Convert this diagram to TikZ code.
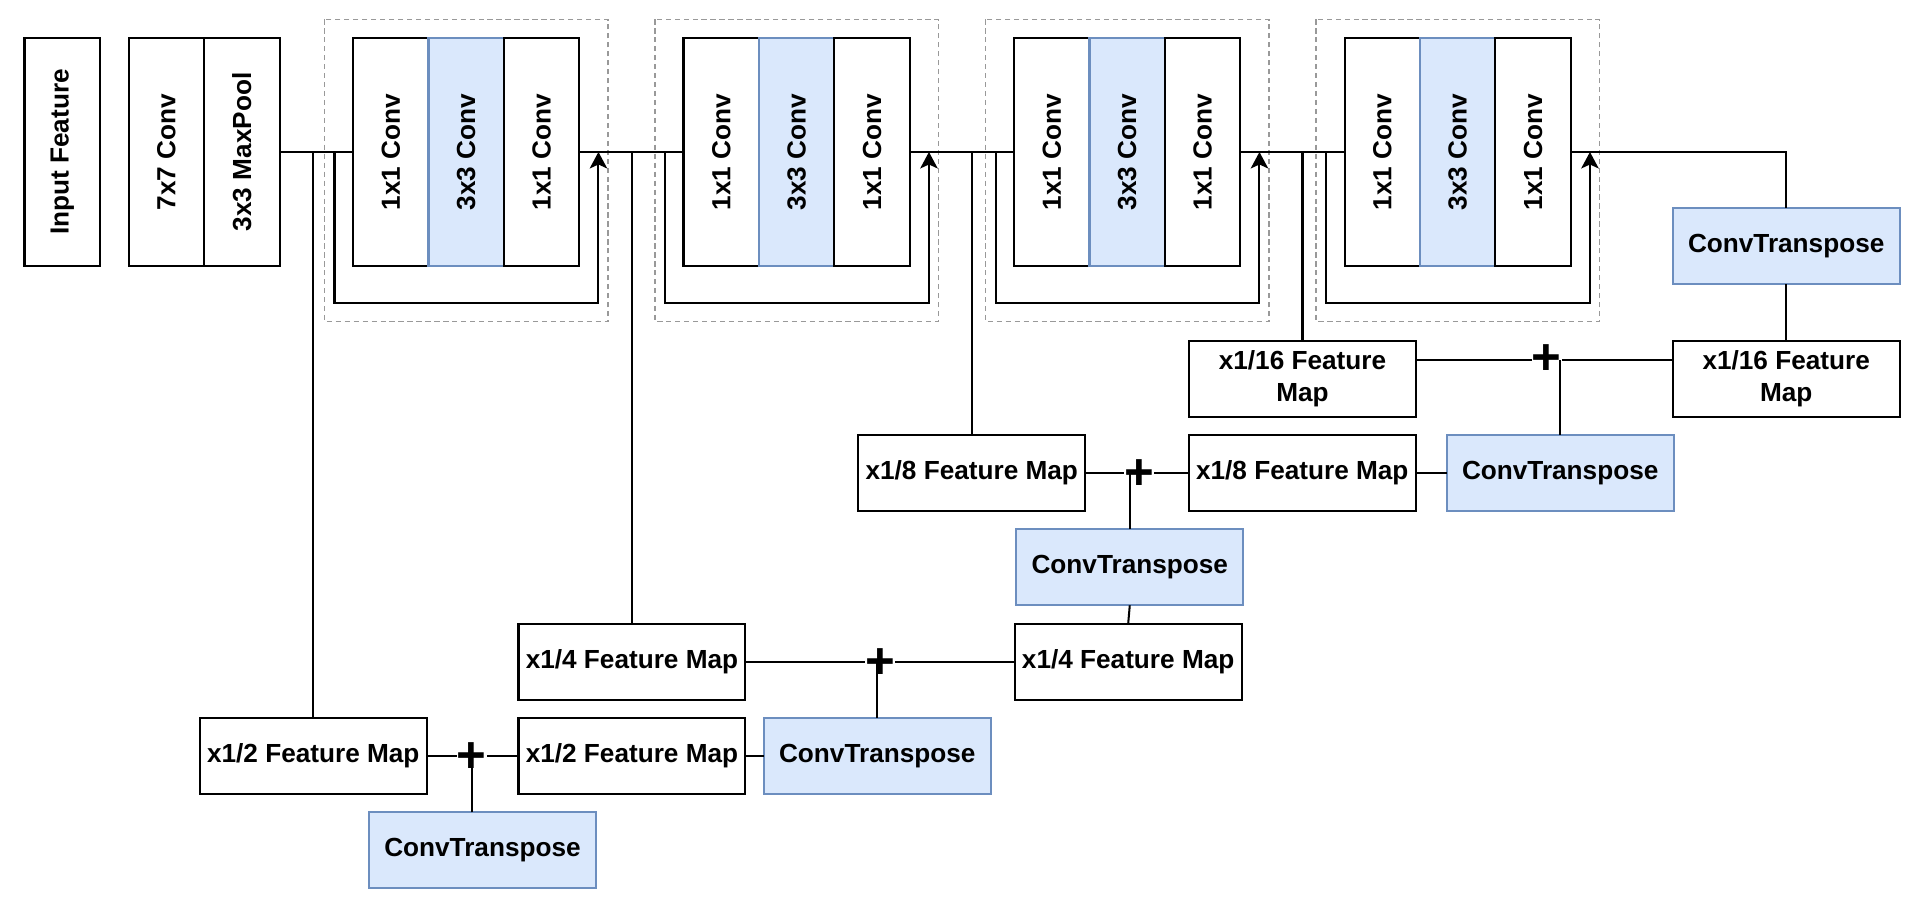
\documentclass[tikz,border=0pt]{standalone}
\usepackage{fontspec}
\setmainfont{Liberation Sans}
\usepackage{graphicx}
\usepackage{xcolor}
\usepackage{tikz}
\usetikzlibrary{
	positioning,    % Per posizionare i nodi (es. right=of)
	arrows.meta     % Per le punte delle frecce (Stealth)
}
\definecolor{bluefill}{HTML}{DAE8FC}
\definecolor{blueline}{HTML}{6C8EBF}
\definecolor{dashgray}{HTML}{999999}
\newcommand{\vlabel}[1]{\rotatebox{90}{#1}}

\begin{document}
\begin{tikzpicture}[x=0.02cm, y=-0.02cm, line width=1.15pt,
		>={Stealth[length=0.33cm, width=0.35cm, inset=0.08cm]},
		font=\bfseries\fontsize{14.9}{18}\selectfont,
		vbox/.style={draw, rectangle, inner sep=0pt, outer sep=0pt, minimum width=1.51cm, minimum height=4.56cm},
		hbox/.style={draw, rectangle, inner sep=0pt, outer sep=0pt, minimum width=4.54cm, minimum height=1.52cm, align=center},
		bluebox/.style={fill=bluefill, draw=blueline},
		resblock/.style={draw=dashgray, line width=0.85pt, dash pattern=on 3pt off 2.1pt},
		sumlabel/.style={fill=white, inner sep=0pt, font=\bfseries\fontsize{29}{29}\selectfont}]
		% Cornice (margini del disegno)
		\useasboundingbox (0,0) rectangle (1920,912);
		
		% --- Ingresso ---
		\node[vbox, anchor=north west] (inp) at (24.5,38) {\vlabel{Input Feature}};
		\node[vbox, anchor=north west] (conv7) at (128.6,38) {\vlabel{7x7 Conv}};
		\node[vbox, right=0pt of conv7] (pool) {\vlabel{3x3 MaxPool}};
		
		% --- Blocchi bottleneck ---
		% Blocco 1
		\node[vbox, anchor=north west] (conv1a) at (353,38) {\vlabel{1x1 Conv}};
		\node[vbox, bluebox, right=0pt of conv1a] (conv1b) {\vlabel{3x3 Conv}};
		\node[vbox, right=0pt of conv1b] (conv1c) {\vlabel{1x1 Conv}};
		% Blocco 2
		\node[vbox, anchor=north west] (conv2a) at (683.5,38) {\vlabel{1x1 Conv}};
		\node[vbox, bluebox, right=0pt of conv2a] (conv2b) {\vlabel{3x3 Conv}};
		\node[vbox, right=0pt of conv2b] (conv2c) {\vlabel{1x1 Conv}};
		% Blocco 3
		\node[vbox, anchor=north west] (conv3a) at (1014,38) {\vlabel{1x1 Conv}};
		\node[vbox, bluebox, right=0pt of conv3a] (conv3b) {\vlabel{3x3 Conv}};
		\node[vbox, right=0pt of conv3b] (conv3c) {\vlabel{1x1 Conv}};
		% Blocco 4
		\node[vbox, anchor=north west] (conv4a) at (1344.5,38) {\vlabel{1x1 Conv}};
		\node[vbox, bluebox, right=0pt of conv4a] (conv4b) {\vlabel{3x3 Conv}};
		\node[vbox, right=0pt of conv4b] (conv4c) {\vlabel{1x1 Conv}};
		
		% Riquadri tratteggiati
		\draw[resblock] (conv1a.north west) ++(-28.5,-18.7) rectangle ++(283.5,302.4);
		\draw[resblock] (conv2a.north west) ++(-28.5,-18.7) rectangle ++(283.5,302.4);
		\draw[resblock] (conv3a.north west) ++(-28.5,-18.7) rectangle ++(283.5,302.4);
		\draw[resblock] (conv4a.north west) ++(-28.5,-18.7) rectangle ++(283.5,302.4);
		
		% --- Linea principale ---
		\draw (pool.east) -- (conv1a.west);
		\draw (conv1c.east) -- (conv2a.west);
		\draw (conv2c.east) -- (conv3a.west);
		\draw (conv3c.east) -- (conv4a.west);
		
		% Connessioni residue
		\draw[->] ([xshift=-0.37cm]conv1a.west) -- ++(0,150.7) -| ([xshift=0.38cm]conv1c.east);
		\draw[->] ([xshift=-0.37cm]conv2a.west) -- ++(0,150.7) -| ([xshift=0.38cm]conv2c.east);
		\draw[->] ([xshift=-0.37cm]conv3a.west) -- ++(0,150.7) -| ([xshift=0.38cm]conv3c.east);
		\draw[->] ([xshift=-0.37cm]conv4a.west) -- ++(0,150.7) -| ([xshift=0.38cm]conv4c.east);
		
		% --- Decoder ---
		\node[hbox, bluebox, anchor=north west] (ct1) at (1672.7,208.3) {ConvTranspose};
		\node[hbox, anchor=north west] (fm16a) at (1189,340.7) {x1/16 Feature\\Map};
		\node[hbox, anchor=north west] (fm16b) at (1672.7,340.7) {x1/16 Feature\\Map};
		\node[hbox, anchor=north west] (fm8a) at (858.3,434.7) {x1/8 Feature Map};
		\node[hbox, anchor=north west] (fm8b) at (1188.8,434.7) {x1/8 Feature Map};
		\node[hbox, bluebox, anchor=north west] (ct2) at (1446.7,434.7) {ConvTranspose};
		\node[hbox, bluebox, anchor=north west] (ct3) at (1016.3,529.3) {ConvTranspose};
		\node[hbox, anchor=north west] (fm4a) at (518.5,623.7) {x1/4 Feature Map};
		\node[hbox, anchor=north west] (fm4b) at (1014.7,623.7) {x1/4 Feature Map};
		\node[hbox, anchor=north west] (fm2a) at (199.8,717.7) {x1/2 Feature Map};
		\node[hbox, anchor=north west] (fm2b) at (518.5,717.7) {x1/2 Feature Map};
		\node[hbox, bluebox, anchor=north west] (ct4) at (763.8,717.7) {ConvTranspose};
		\node[hbox, bluebox, anchor=north west] (ct5) at (369,812.3) {ConvTranspose};
		
		% Rami verso le mappe
		\draw (conv4c.east) -| (ct1.north);
		\draw (fm16a.north) -- (fm16a.north |- conv3c.east);
		\draw (fm8a.north) -- (fm8a.north |- conv2c.east);
		\draw (fm4a.north) -- (fm4a.north |- conv1c.east);
		\draw (fm2a.north) -- (fm2a.north |- pool.east);
		
		% Somma x1/16
		\draw (ct1.south) -- (fm16b.north);
		\draw ([yshift=0.367cm]fm16a.east) -- ([yshift=0.367cm]fm16b.west);
		\node[sumlabel] (sum16) at (1546.7,360) {+};
		\draw (ct2.north) -- (ct2.north |- sum16);
		
		% Somma x1/8
		\draw (fm8a.east) -- (fm8b.west);
		\draw (fm8b.east) -- (ct2.west);
		\node[sumlabel] (sum8) at (1139,475) {+};
		\draw (ct3.north) -- (ct3.north |- fm8a.east);
		
		% Somma x1/4
		\draw (ct3.south) -- (fm4b.north);
		\draw (fm4a.east) -- (fm4b.west);
		\node[sumlabel] (sum4) at (880,664) {+};
		\draw (ct4.north) -- (ct4.north |- fm4a.east);
		
		% Somma x1/2
		\draw (fm2a.east) -- (fm2b.west);
		\draw (fm2b.east) -- (ct4.west);
		\node[sumlabel] (sum2) at (471.7,758) {+};
		\draw (sum2 |- ct5.north) -- (sum2 |- fm2a.east);
	\end{tikzpicture}
\end{document}
